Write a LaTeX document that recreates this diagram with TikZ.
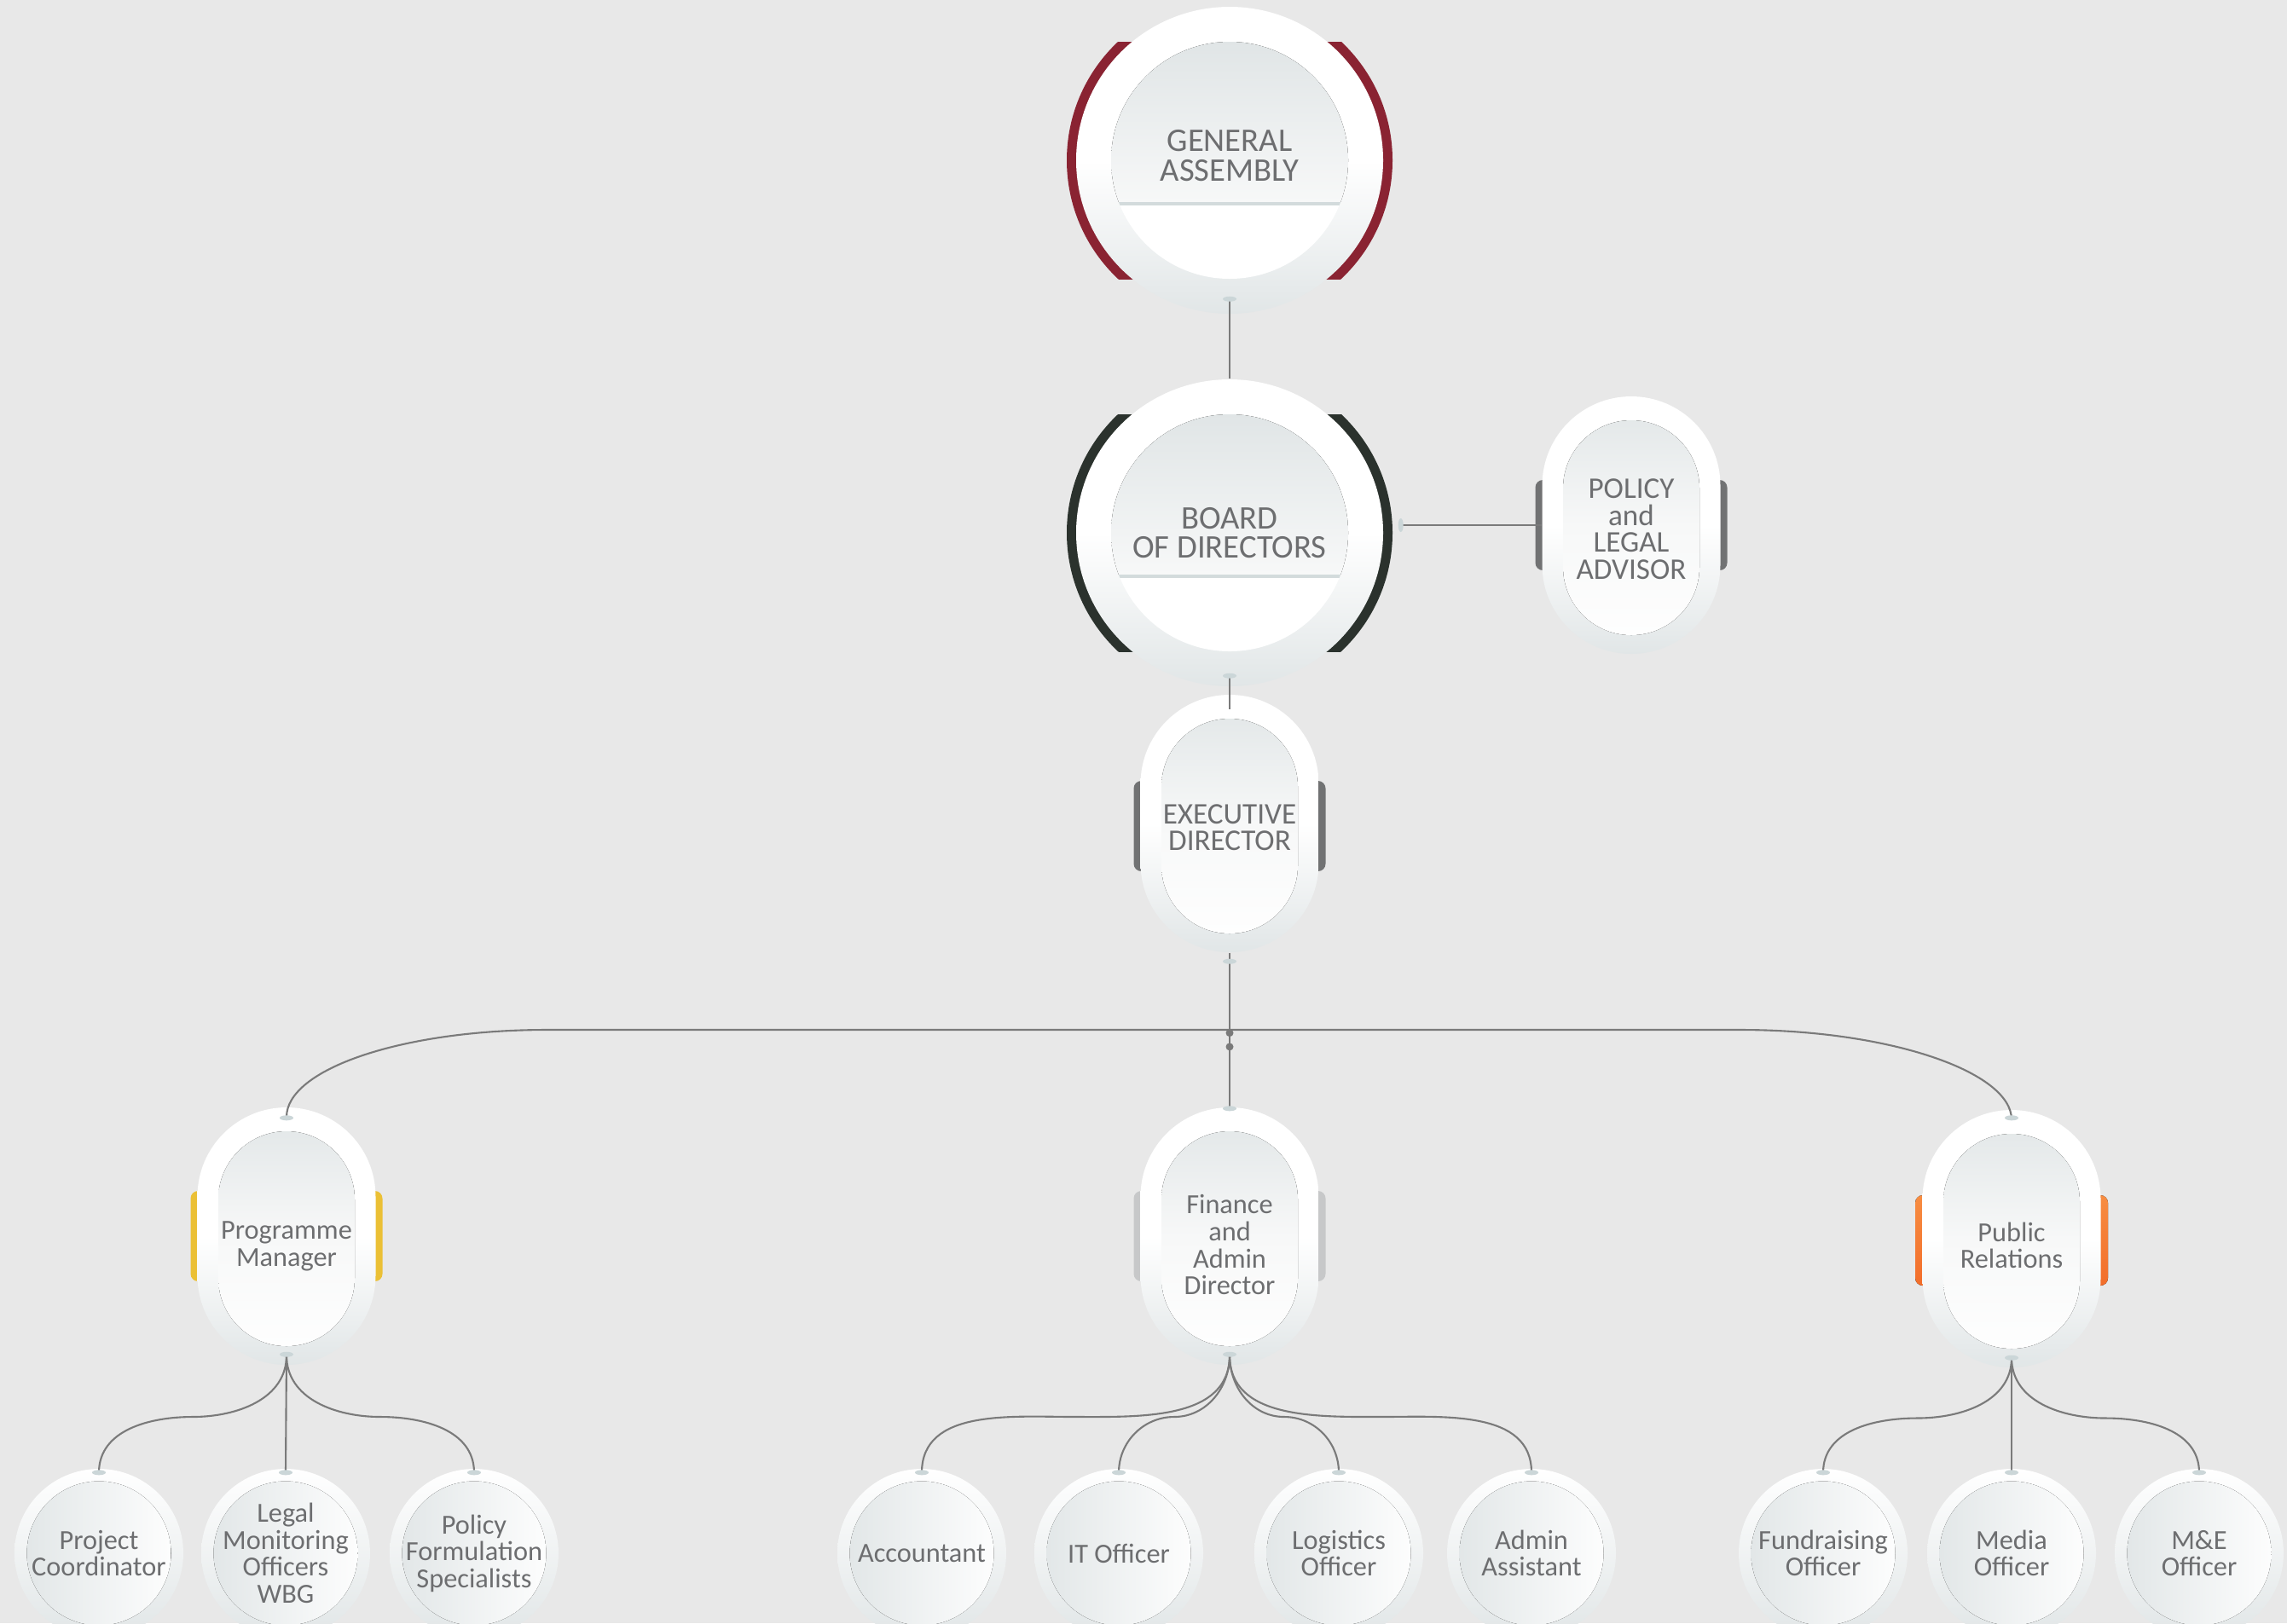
\documentclass[tikz,border=0pt]{standalone}
\usepackage{fontspec}
\setmainfont{Carlito}
\usetikzlibrary{calc}

\definecolor{bggray}{HTML}{E8E8E8}
\definecolor{txtgray}{HTML}{6D6E70}
\definecolor{linegray}{HTML}{7A7A7A}
\definecolor{ringgray}{HTML}{E1E6E7}
\definecolor{innertop}{HTML}{E0E5E6}
\definecolor{innermid}{HTML}{F7F8F8}
\definecolor{nubblue}{HTML}{CBD6D8}
\definecolor{sepline}{HTML}{D3DBDC}
\definecolor{gared}{HTML}{8A2332}
\definecolor{boddark}{HTML}{2B322D}
\definecolor{bargray}{HTML}{717273}
\definecolor{barlight}{HTML}{C7C8C9}
\definecolor{baryellow}{HTML}{EBC035}
\definecolor{orangetop}{HTML}{F78D42}
\definecolor{orangebot}{HTML}{F26D2A}

\newcommand{\lift}[1]{\rule{0pt}{#1}}

\tikzset{
  conn/.style={linegray, line width=0.6pt},
  bigcirc/.style={circle, minimum size=3.6cm, inner sep=0pt, align=center, text=txtgray,
    font=\fontsize{11}{9.9}\selectfont,
    top color=white, bottom color=ringgray, middle color=white,
    path picture={
      \begin{scope}
        \clip (path picture bounding box.center) circle (1.39);
        \fill[top color=innertop, bottom color=innermid]
          ($(path picture bounding box.center)+(-1.4,-0.49)$) rectangle ++(2.8,1.9);
        \fill[white] ($(path picture bounding box.center)+(-1.4,-0.49)$) rectangle ++(2.8,-1);
        \fill[sepline] ($(path picture bounding box.center)+(-1.4,-0.49)$) rectangle ++(2.8,-0.035);
      \end{scope}
    }},
  pill/.style={rectangle, minimum width=2.09cm, minimum height=3.02cm, rounded corners=1.045cm,
    inner sep=0pt, align=center, text=txtgray, font=\fontsize{10}{9}\selectfont,
    top color=white, bottom color=ringgray, middle color=white,
    path picture={
      \fill[rounded corners=0.8cm, top color=innertop, bottom color=white, middle color=innermid]
        ($(path picture bounding box.center)+(-0.8,-1.29)$) rectangle ++(1.6,2.52);
    }},
  lowtext/.style={font=\fontsize{9.2}{9}\selectfont},
  textup/.style={execute at end node={\rule[-#1]{0pt}{#1}}},
  smallnode/.style={circle, minimum size=1.98cm, inner sep=0pt, align=center, text=txtgray,
    font=\fontsize{9.2}{9}\selectfont,
    top color=white, bottom color=ringgray,
    path picture={
      \fill[left color=innertop, right color=white] (path picture bounding box.center) circle (0.845);
    }}
}

\begin{document}
\begin{tikzpicture}
\useasboundingbox (0,0) rectangle (26.82,-19.04);
\fill[bggray] (0,0) rectangle (26.82,-19.04);

\foreach \y/\c in {-1.88/gared, -6.25/boddark}{
  \begin{scope}
    \clip (12,\y-1.39) rectangle (17,\y+1.39);
    \fill[\c] (14.42,\y) circle (1.91);
  \end{scope}
}
\foreach \x/\y/\c in {14.42/-9.69/bargray, 19.13/-6.16/bargray, 3.36/-14.50/baryellow, 14.42/-14.50/barlight}
  \fill[\c, rounded corners=2.5pt] (\x-1.125,\y-0.53) rectangle (\x+1.125,\y+0.53);
\fill[rounded corners=2.5pt, top color=orangetop, bottom color=orangebot] (22.46,-15.08) rectangle (24.72,-14.02);

\node[bigcirc, textup=3pt] (ga)  at (14.42,-1.88) {GENERAL\\ASSEMBLY};
\node[bigcirc] (bod) at (14.42,-6.25) {BOARD\\OF DIRECTORS};
\node[pill] (pla) at (19.13,-6.16) {\lift{9.2pt}POLICY\\and\\LEGAL\\ADVISOR};
\node[pill] (ed)  at (14.42,-9.66) {\lift{9.2pt}EXECUTIVE\\DIRECTOR};
\node[pill, lowtext] (pm)  at (3.36,-14.50)  {\lift{12.7pt}Programme\\Manager};
\node[pill, lowtext] (fad) at (14.42,-14.50) {\lift{12.2pt}Finance\\and\\Admin\\Director};
\node[pill, lowtext] (pr)  at (23.59,-14.53) {\lift{10.8pt}Public\\Relations};

\foreach \n/\x/\t in {pc/1.16/{Project\\Coordinator}, lmo/3.35/{Legal\\Monitoring\\Officers\\WBG},
    pfs/5.56/{Policy\\Formulation\\Specialists}, acc/10.81/{Accountant}, ito/13.12/{IT Officer},
    lgo/15.70/{Logistics\\Officer}, aas/17.96/{Admin\\Assistant}, fro/21.38/{Fundraising\\Officer},
    mo/23.59/{Media\\Officer}, meo/25.79/{M\&E\\Officer}}
  \node[smallnode] (\n) at (\x,-18.22) {\t};

\draw[conn, line width=0.8pt] ([yshift=1.8mm]ga.south) -- (bod.north);
\draw[conn] ($(bod.east |- pla.west)+(0.2,0)$) -- (pla.west);
\draw[conn, line width=0.8pt] ([yshift=1.2mm]bod.south) -- ([yshift=-1.8mm]ed.north);
\draw[conn] (ed.south) -- (fad.north);

\coordinate (busl) at (6.41,-12.08);
\coordinate (busr) at (20.41,-12.08);
\draw[conn] ([yshift=-1.2mm]pm.north) .. controls +(0,0.56) and +(-1.7,0) .. (busl)
  -- (busr) .. controls +(1.75,0) and +(0,0.56) .. ([yshift=-1.2mm]pr.north);
\fill[linegray] ($(ed.south)!0.52!(fad.north)$) circle (0.045);
\fill[linegray] ($(ed.south)!0.61!(fad.north)$) circle (0.045);

\foreach \p/\c/\i in {pm/pc/0, pm/pfs/180, fad/acc/0, fad/ito/0, fad/lgo/180, fad/aas/180, pr/fro/0, pr/meo/180}
  \draw[conn] ([yshift=1.2mm]\p.south) to[out=-90, in=\i] ($(\p.south)!0.5!(\c.north)$)
    to[out=\i+180, in=90] ([yshift=-0.5mm]\c.north);
\draw[conn] ([yshift=1.2mm]pm.south) -- ([yshift=-0.5mm]lmo.north);
\draw[conn] ([yshift=1.2mm]pr.south) -- ([yshift=-0.5mm]mo.north);

\foreach \a/\s in {ga.south/0.18, bod.south/0.13, ed.south/-0.1, fad.north/-0.02, pm.north/-0.13,
    pr.north/-0.1, pm.south/0.13, fad.south/0.13, pr.south/0.12}
  \fill[nubblue] ([yshift=\s cm]\a) ellipse (0.08 and 0.03);
\foreach \c in {pc, lmo, pfs, acc, ito, lgo, aas, fro, mo, meo}
  \fill[nubblue] ([yshift=-0.5mm]\c.north) ellipse (0.08 and 0.03);
\fill[nubblue] ($(bod.east |- pla.west)+(0.2,0)$) ellipse (0.03 and 0.08);

\end{tikzpicture}
\end{document}
